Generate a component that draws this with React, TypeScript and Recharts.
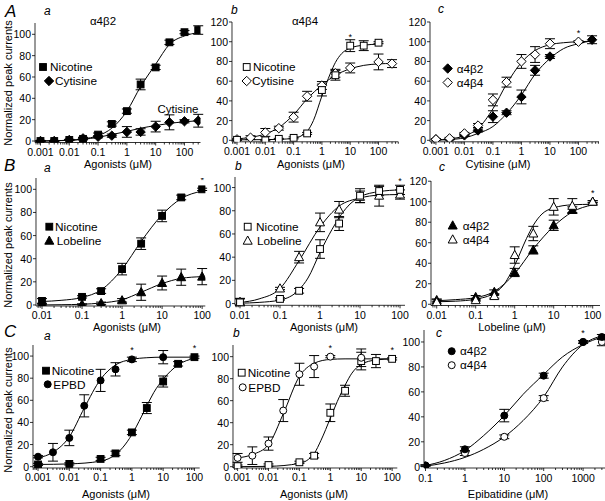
import React from 'react';
import { ComposedChart, Line, Scatter, XAxis, YAxis, ErrorBar } from 'recharts';

type Pt = { x: number; y: number; e: number; star: boolean };
type FitPt = { x: number; y: number };
type Kind = 'square' | 'diamond' | 'triangle' | 'circle';

const pts = (d: number[], v: number[], e: number[], stars: number[] = []): Pt[] =>
  d.map((x, i) => ({ x, y: v[i], e: e[i], star: stars.includes(x) }));
const fit = (d: number[], v: number[]): FitPt[] => d.map((x, i) => ({ x, y: v[i] }));

// ---------- Row A ----------
const doseA = [0.001, 0.003, 0.01, 0.03, 0.1, 0.3, 1, 3, 10, 30, 100, 300];
const aaNicotine = [0, 0, 1, 2, 6, 16, 28, 53, 69, 92.5, 102, 104];
const aaNicotineErr = [0.5, 0.5, 0.5, 1, 1.5, 2, 2, 5, 2, 2, 1.5, 4];
const aaCytisine = [0, 0, 1, 2.5, 4, 5, 8.5, 8.5, 13.5, 17.5, 18.5, 19];
const aaCytisineErr = [0.5, 0.5, 0.5, 1, 1, 1.5, 5, 3, 5, 7, 1.5, 6];
const aaNicotineFit = [0, 0.3, 0.8, 2, 5, 12, 28, 51, 72, 90.5, 98.5, 101.5];
const aaCytisineFit = [0, 0.2, 0.6, 1.5, 3.5, 6, 9, 12, 14.5, 16.5, 18, 19];

const abNicDose = [0.001, 0.01, 0.03, 0.1, 0.3, 1, 3, 10, 30, 100];
const abNicotine = [0.5, 0, 1.5, 2.5, 7, 51, 66, 96, 96, 99];
const abNicotineErr = [0.5, 0.5, 0.5, 1, 1, 6, 5, 6, 5, 1];
const abCytDose = [0.001, 0.003, 0.01, 0.03, 0.1, 0.3, 1, 3, 10, 100, 300];
const abCytisine = [1, 2.7, 8, 12.3, 23.5, 44.7, 55.6, 68, 73.4, 79.5, 77.8];
const abCytisineErr = [0.5, 2, 4, 2, 5, 5, 4, 4, 5, 8, 4];
const abNicFitDose = [0.001, 0.01, 0.03, 0.1, 0.2, 0.3, 0.5, 1, 2, 3, 5, 10, 30, 100];
const abNicotineFit = [0.5, 0.7, 1, 2, 5, 9, 20, 45, 68, 79, 88, 93.5, 96.5, 97.5];
const abCytisineFit = [1.5, 3, 6.5, 13, 26, 42, 56, 66, 72.5, 76, 77.5, 78];

const acB2Dose = [0.001, 0.003, 0.01, 0.03, 0.1, 0.3, 1, 3, 10, 300];
const acB2 = [1, 1, 5, 10, 24, 28, 44, 71, 85, 102];
const acB2Err = [0.5, 0.5, 1, 1.5, 6, 2, 7, 5, 2, 4];
const acB4Dose = [0.001, 0.003, 0.01, 0.03, 0.1, 0.3, 1, 3, 10, 100];
const acB4 = [1, 2, 7, 15, 41, 59, 80, 87, 98, 100];
const acB4Err = [0.5, 1, 1, 2, 6, 5, 7, 8, 5, 1];
const acB2Fit = [0.2, 0.8, 2.5, 7, 14, 27, 46, 67, 83, 93, 98, 101];
const acB4Fit = [0.5, 1.5, 4.5, 12, 32, 57, 79, 91, 97, 99, 100, 100.5];

// ---------- Row B ----------
const doseB = [0.01, 0.1, 0.3, 1, 3, 10, 30, 100];
const fitDoseB = [0.01, 0.03, 0.1, 0.3, 1, 3, 10, 30, 100];
const steepDoseB = [0.01, 0.03, 0.1, 0.3, 0.5, 1, 2, 3, 5, 10, 30, 100];
const baNicotine = [3.5, 7, 12, 31, 53, 77, 93, 100];
const baNicotineErr = [2, 1, 2, 5, 5, 5, 2, 1];
const baLobeline = [0.5, 0.5, 1.5, 4, 11, 19, 24, 24.5];
const baLobelineErr = [0.5, 0.5, 1, 1.5, 7, 6, 7, 7];
const baNicotineFit = [3, 4, 6.5, 13, 31, 55, 78, 92, 98.5];
const baLobelineFit = [0, 0.2, 0.6, 1.7, 4.5, 11, 18.5, 23, 24.5];

const bbNicotine = [1, 4, 11, 47, 69, 93, 97, 98];
const bbNicotineErr = [3, 1, 2, 8, 6, 6, 4, 4];
const bbLobeline = [1.5, 13, 40, 70, 81, 92, 93, 94];
const bbLobelineErr = [3, 1, 5, 8, 7, 5, 9, 4];
const bbNicotineFit = [0.3, 1, 3, 12, 22, 44, 64, 74, 84, 92, 96.5, 98];
const bbLobelineFit = [1, 4, 13, 37, 66, 84, 91, 93.5, 94];

const bcB2 = [4, 7, 12, 31, 53, 77, 92, 100];
const bcB2Err = [1, 1.5, 2, 4, 4, 5, 3, 1];
const bcB4 = [2, 4, 8, 48, 69, 95, 96, 100];
const bcB4Err = [3, 1, 2, 8, 7, 8, 7, 1];
const bcB2Fit = [3.5, 4.5, 6.5, 12.5, 30, 54, 76, 90, 97];
const bcB4Fit = [2.5, 3, 5, 11, 18, 38, 64, 77, 88, 94, 97, 97.5];

// ---------- Row C ----------
const nicDoseC = [0.001, 0.01, 0.1, 0.3, 1, 3, 10, 30, 100];
const epbdDoseC = [0.001, 0.003, 0.01, 0.03, 0.1, 0.3, 1, 10];
const epbdFitDoseC = [0.001, 0.003, 0.01, 0.03, 0.1, 0.3, 1, 3, 10, 100];
const nicFitDoseC = [0.001, 0.01, 0.1, 0.3, 0.5, 1, 2, 3, 5, 10, 30, 100];
const caNicotine = [2, 2.5, 7, 12, 31, 53, 77, 93, 99];
const caNicotineErr = [1, 1, 1.5, 2, 2, 5, 5, 2, 1];
const caEPBD = [9, 13, 26, 55, 78, 88, 97, 99];
const caEPBDErr = [1, 8, 7, 10, 10, 6, 2, 6];
const caEPBDFit = [8, 13, 27, 53, 79, 92, 97, 98.5, 99, 99];
const caNicotineFit = [2, 2.5, 5, 11, 17, 29, 45, 55, 67, 79, 92, 98];

const cbNicotine = [0.5, 1.5, 4, 10, 49, 69, 96, 96, 98];
const cbNicotineErr = [1, 1, 1, 2, 8, 5, 8, 6, 1];
const cbEPBD = [8, 10, 21, 51, 84, 91, 100, 99];
const cbEPBDErr = [4, 8, 6, 10, 10, 10, 1, 8];
const cbEPBDFit = [8, 11, 20, 48, 82, 94, 97.5, 98, 98, 98];
const cbNicotineFit = [0, 0.3, 3, 12, 24, 44, 64, 74, 85, 93, 97, 98];

const doseCc = [0.1, 1, 10, 100, 1000, 3000];
const fitDoseCc = [0.1, 0.3, 1, 3, 10, 30, 100, 300, 1000, 3000];
const ccB2 = [1, 14, 41, 73, 100, 104];
const ccB2Err = [0.5, 2, 5, 2, 1, 2];
const ccB4 = [1, 11, 24, 55, 100, 100];
const ccB4Err = [0.5, 2, 1.5, 2, 1, 3];
const ccB2Fit = [1, 5, 13, 25, 41, 58, 74, 88, 98, 104];
const ccB4Fit = [0.5, 3, 7.5, 14, 24, 37, 56, 80, 98, 105];

// ---------- Ticks ----------
const yTicks100 = [0, 20, 40, 60, 80, 100];
const yTicks120 = [0, 20, 40, 60, 80, 100, 120];
const xMajorsA = [0.001, 0.01, 0.1, 1, 10, 100];
const xMajorsB = [0.01, 0.1, 1, 10, 100];
const xMajorsCc = [0.1, 1, 10, 100, 1000];

type Series = { data: Pt[]; fit: FitPt[]; kind: Kind; filled: boolean };
type Panel = {
  left: number; top: number; right: number; bottom: number;
  xDomain: [number, number]; yDomain: [number, number];
  yTicks: number[]; xMajors: number[]; series: Series[];
};

const panels: Panel[] = [
  {
    left: 34.5, top: 23, right: 200, bottom: 142.5, xDomain: [0.000645, 360], yDomain: [-1.4, 110.6],
    yTicks: yTicks100, xMajors: xMajorsA,
    series: [
      { data: pts(doseA, aaCytisine, aaCytisineErr), fit: fit(doseA, aaCytisineFit), kind: 'diamond', filled: true },
      { data: pts(doseA, aaNicotine, aaNicotineErr, [100]), fit: fit(doseA, aaNicotineFit), kind: 'square', filled: true },
    ],
  },
  {
    left: 231.7, top: 21.7, right: 398, bottom: 141.5, xDomain: [0.000665, 500], yDomain: [-1.5, 120],
    yTicks: yTicks120, xMajors: xMajorsA,
    series: [
      { data: pts(abCytDose, abCytisine, abCytisineErr), fit: fit(doseA, abCytisineFit), kind: 'diamond', filled: false },
      { data: pts(abNicDose, abNicotine, abNicotineErr, [10]), fit: fit(abNicFitDose, abNicotineFit), kind: 'square', filled: false },
    ],
  },
  {
    left: 430, top: 21.7, right: 599, bottom: 141.5, xDomain: [0.00062, 525], yDomain: [-1.5, 120],
    yTicks: yTicks120, xMajors: xMajorsA,
    series: [
      { data: pts(acB2Dose, acB2, acB2Err), fit: fit(doseA, acB2Fit), kind: 'diamond', filled: true },
      { data: pts(acB4Dose, acB4, acB4Err, [100]), fit: fit(doseA, acB4Fit), kind: 'diamond', filled: false },
    ],
  },
  {
    left: 35.7, top: 178, right: 205, bottom: 306, xDomain: [0.00708, 120], yDomain: [-0.9, 109.8],
    yTicks: yTicks100, xMajors: xMajorsB,
    series: [
      { data: pts(doseB, baLobeline, baLobelineErr), fit: fit(fitDoseB, baLobelineFit), kind: 'triangle', filled: true },
      { data: pts(doseB, baNicotine, baNicotineErr, [100]), fit: fit(fitDoseB, baNicotineFit), kind: 'square', filled: true },
    ],
  },
  {
    left: 235, top: 176.7, right: 405, bottom: 305, xDomain: [0.0075, 133], yDomain: [-1.5, 109.1],
    yTicks: yTicks100, xMajors: xMajorsB,
    series: [
      { data: pts(doseB, bbLobeline, bbLobelineErr), fit: fit(fitDoseB, bbLobelineFit), kind: 'triangle', filled: false },
      { data: pts(doseB, bbNicotine, bbNicotineErr, [100]), fit: fit(steepDoseB, bbNicotineFit), kind: 'square', filled: false },
    ],
  },
  {
    left: 431, top: 181, right: 600, bottom: 305.5, xDomain: [0.00714, 154], yDomain: [-1.2, 120.2],
    yTicks: yTicks120, xMajors: xMajorsB,
    series: [
      { data: pts(doseB, bcB2, bcB2Err), fit: fit(fitDoseB, bcB2Fit), kind: 'triangle', filled: true },
      { data: pts(doseB, bcB4, bcB4Err, [100]), fit: fit(steepDoseB, bcB4Fit), kind: 'triangle', filled: false },
    ],
  },
  {
    left: 33.3, top: 345, right: 200, bottom: 468, xDomain: [0.00069, 147], yDomain: [-1.2, 110],
    yTicks: yTicks100, xMajors: xMajorsA,
    series: [
      { data: pts(nicDoseC, caNicotine, caNicotineErr, [100]), fit: fit(nicFitDoseC, caNicotineFit), kind: 'square', filled: true },
      { data: pts(epbdDoseC, caEPBD, caEPBDErr, [1]), fit: fit(epbdFitDoseC, caEPBDFit), kind: 'circle', filled: true },
    ],
  },
  {
    left: 232.7, top: 345, right: 397, bottom: 468, xDomain: [0.00071, 147], yDomain: [-1.2, 110.6],
    yTicks: yTicks100, xMajors: xMajorsA,
    series: [
      { data: pts(nicDoseC, cbNicotine, cbNicotineErr, [100]), fit: fit(nicFitDoseC, cbNicotineFit), kind: 'square', filled: false },
      { data: pts(epbdDoseC, cbEPBD, cbEPBDErr, [1]), fit: fit(epbdFitDoseC, cbEPBDFit), kind: 'circle', filled: false },
    ],
  },
  {
    left: 424, top: 330, right: 605, bottom: 468, xDomain: [0.0916, 3600], yDomain: [-1, 109.6],
    yTicks: yTicks100, xMajors: xMajorsCc,
    series: [
      { data: pts(doseCc, ccB4, ccB4Err), fit: fit(fitDoseCc, ccB4Fit), kind: 'circle', filled: false },
      { data: pts(doseCc, ccB2, ccB2Err, [1000]), fit: fit(fitDoseCc, ccB2Fit), kind: 'circle', filled: true },
    ],
  },
];

function Marker({ cx, cy, kind, filled }: { cx: number; cy: number; kind: Kind; filled: boolean }) {
  const fill = filled ? '#000' : '#fff';
  const common = { fill, stroke: '#000', strokeWidth: 1 };
  if (kind === 'square') return <rect x={cx - 3.4} y={cy - 3.4} width={6.8} height={6.8} {...common} />;
  if (kind === 'diamond')
    return <polygon points={`${cx},${cy - 4.7} ${cx + 4.7},${cy} ${cx},${cy + 4.7} ${cx - 4.7},${cy}`} {...common} />;
  if (kind === 'triangle')
    return <polygon points={`${cx},${cy - 4.7} ${cx + 4.5},${cy + 3.5} ${cx - 4.5},${cy + 3.5}`} {...common} />;
  return <circle cx={cx} cy={cy} r={3.5} {...common} />;
}

function minorTicks(majors: number[], domain: [number, number]): number[] {
  const out: number[] = [];
  const bases = [majors[0] / 10, ...majors];
  bases.forEach((b) => {
    for (let k = 1; k <= 9; k++) {
      const v = k === 1 ? b : b * k;
      if (v >= domain[0] && v <= domain[1]) out.push(v);
    }
  });
  return out;
}

const XTick = (props: any) => {
  const { x, y, payload, majors } = props;
  const isMajor = majors.includes(payload.value);
  return (
    <g>
      <line x1={x} x2={x} y1={y} y2={y + (isMajor ? 3 : 2)} stroke="#000" strokeWidth={0.8} />
      {isMajor && (
        <text x={x} y={y + 13.5} textAnchor="middle" fontSize={10.5} fill="#000">
          {String(payload.value)}
        </text>
      )}
    </g>
  );
};

const YTick = (props: any) => {
  const { x, y, payload } = props;
  return (
    <g>
      <line x1={x} x2={x - 3} y1={y} y2={y} stroke="#000" strokeWidth={0.8} />
      <text x={x - 4} y={y + 4} textAnchor="end" fontSize={10.5} fill="#000">
        {String(payload.value)}
      </text>
    </g>
  );
};

function PanelChart({ p }: { p: Panel }) {
  const ml = 40, mt = 14, mr = 16, mb = 22;
  const pw = p.right - p.left;
  const ph = p.bottom - p.top;
  const ticks = minorTicks(p.xMajors, p.xDomain);
  return (
    <div style={{ position: 'absolute', left: p.left - ml, top: p.top - mt }}>
      <ComposedChart width={pw + ml + mr} height={ph + mt + mb} margin={{ top: mt, right: mr, left: 0, bottom: 0 }}>
        <XAxis
          type="number" dataKey="x" scale="log" domain={p.xDomain} allowDataOverflow
          ticks={ticks} interval={0} tickSize={0} tickMargin={0} height={mb}
          tickLine={false} axisLine={{ stroke: '#000', strokeWidth: 0.8 }}
          tick={<XTick majors={p.xMajors} />}
        />
        <YAxis
          type="number" dataKey="y" domain={p.yDomain} allowDataOverflow ticks={p.yTicks}
          interval={0} tickSize={0} tickMargin={0} width={ml} tickLine={false}
          axisLine={{ stroke: '#000', strokeWidth: 0.8 }} tick={<YTick />}
        />
        {p.series.map((s, i) => (
          <Line key={'f' + i} data={s.fit} dataKey="y" type="monotone" stroke="#000" strokeWidth={1}
            dot={false} activeDot={false} isAnimationActive={false} />
        ))}
        {p.series.map((s, i) => (
          <Scatter key={'s' + i} data={s.data} isAnimationActive={false}
            shape={(sp: any) => (
              <g>
                <Marker cx={sp.cx} cy={sp.cy} kind={s.kind} filled={s.filled} />
                {sp.payload && sp.payload.star && (
                  <text x={sp.cx} y={sp.cy - 6} textAnchor="middle" fontSize={9} fill="#000">*</text>
                )}
              </g>
            )}>
            <ErrorBar dataKey="e" direction="y" width={5} stroke="#000" strokeWidth={1} />
          </Scatter>
        ))}
      </ComposedChart>
    </div>
  );
}

type Leg = { cx: number; cy: number; kind: Kind; filled: boolean; tx: number; label: string };
const legends: Leg[] = [
  { cx: 43, cy: 67, kind: 'square', filled: true, tx: 50, label: 'Nicotine' },
  { cx: 49, cy: 81, kind: 'diamond', filled: true, tx: 55, label: 'Cytisine' },
  { cx: 246.7, cy: 67, kind: 'square', filled: false, tx: 253, label: 'Nicotine' },
  { cx: 246.7, cy: 81, kind: 'diamond', filled: false, tx: 252, label: 'Cytisine' },
  { cx: 447.7, cy: 68.5, kind: 'diamond', filled: true, tx: 456.7, label: 'α4β2' },
  { cx: 447.7, cy: 82.5, kind: 'diamond', filled: false, tx: 456.7, label: 'α4β4' },
  { cx: 49.3, cy: 226.7, kind: 'square', filled: true, tx: 55, label: 'Nicotine' },
  { cx: 49.3, cy: 240.7, kind: 'triangle', filled: true, tx: 56.7, label: 'Lobeline' },
  { cx: 247.7, cy: 226.7, kind: 'square', filled: false, tx: 256, label: 'Nicotine' },
  { cx: 247.7, cy: 240.7, kind: 'triangle', filled: false, tx: 257, label: 'Lobeline' },
  { cx: 452.7, cy: 225.5, kind: 'triangle', filled: true, tx: 462.7, label: 'α4β2' },
  { cx: 452.7, cy: 239.5, kind: 'triangle', filled: false, tx: 462.7, label: 'α4β4' },
  { cx: 46, cy: 370.7, kind: 'square', filled: true, tx: 51.7, label: 'Nicotine' },
  { cx: 47.7, cy: 384.3, kind: 'circle', filled: true, tx: 53.3, label: 'EPBD' },
  { cx: 241.7, cy: 372.7, kind: 'square', filled: false, tx: 247.7, label: 'Nicotine' },
  { cx: 242.7, cy: 387.3, kind: 'circle', filled: false, tx: 248.3, label: 'EPBD' },
  { cx: 451.7, cy: 351.2, kind: 'circle', filled: true, tx: 460, label: 'α4β2' },
  { cx: 451.7, cy: 365.2, kind: 'circle', filled: false, tx: 460, label: 'α4β4' },
];

type Txt = { x: number; y: number; t: string; size: number; italic?: boolean; anchor?: string; rot?: boolean };
const texts: Txt[] = [
  { x: 5, y: 17, t: 'A', size: 17, italic: true },
  { x: 4, y: 171, t: 'B', size: 17, italic: true },
  { x: 4, y: 337, t: 'C', size: 17, italic: true },
  { x: 44, y: 15, t: 'a', size: 12, italic: true },
  { x: 231, y: 14, t: 'b', size: 12, italic: true },
  { x: 438, y: 13, t: 'c', size: 12, italic: true },
  { x: 44, y: 172, t: 'a', size: 12, italic: true },
  { x: 235, y: 170, t: 'b', size: 12, italic: true },
  { x: 439, y: 171, t: 'c', size: 12, italic: true },
  { x: 44, y: 340, t: 'a', size: 12, italic: true },
  { x: 233, y: 337, t: 'b', size: 12, italic: true },
  { x: 436, y: 337, t: 'c', size: 12, italic: true },
  { x: 103, y: 25, t: 'α4β2', size: 11.5, anchor: 'middle' },
  { x: 305, y: 25, t: 'α4β4', size: 11.5, anchor: 'middle' },
  { x: 178, y: 113, t: 'Cytisine', size: 11.5, anchor: 'middle' },
  { x: 118, y: 168, t: 'Agonists (μM)', size: 11, anchor: 'middle' },
  { x: 311, y: 168, t: 'Agonists (μM)', size: 11, anchor: 'middle' },
  { x: 498, y: 168, t: 'Cytisine (μM)', size: 11, anchor: 'middle' },
  { x: 127, y: 331, t: 'Agonists (μM)', size: 11, anchor: 'middle' },
  { x: 324, y: 331, t: 'Agonists (μM)', size: 11, anchor: 'middle' },
  { x: 512, y: 331, t: 'Lobeline (μM)', size: 11, anchor: 'middle' },
  { x: 116, y: 498, t: 'Agonists (μM)', size: 11, anchor: 'middle' },
  { x: 314, y: 498, t: 'Agonists (μM)', size: 11, anchor: 'middle' },
  { x: 508, y: 498, t: 'Epibatidine (μM)', size: 11, anchor: 'middle' },
  { x: 8, y: 83, t: 'Normalized peak currents', size: 11, anchor: 'middle', rot: true },
  { x: 8, y: 245, t: 'Normalized peak currents', size: 11, anchor: 'middle', rot: true },
  { x: 8, y: 410, t: 'Normalized peak currents', size: 11, anchor: 'middle', rot: true },
];

export default function App() {
  return (
    <div style={{ position: 'absolute', left: 0, top: 0, width: 605, height: 501, background: '#fff', overflow: 'hidden', fontFamily: '"Liberation Sans", Arial, sans-serif' }}>
      {panels.map((p, i) => <PanelChart key={i} p={p} />)}
      <svg width={605} height={501} style={{ position: 'absolute', left: 0, top: 0, pointerEvents: 'none' }}>
        {legends.map((l, i) => (
          <g key={i}>
            <Marker cx={l.cx} cy={l.cy} kind={l.kind} filled={l.filled} />
            <text x={l.tx} y={l.cy + 4.2} fontSize={11.8} fill="#000">{l.label}</text>
          </g>
        ))}
        {texts.map((t, i) => (
          <text key={i} x={t.x} y={t.y} fontSize={t.size} fontStyle={t.italic ? 'italic' : 'normal'}
            textAnchor={(t.anchor as any) || 'start'} fill="#000"
            dominantBaseline={t.rot ? 'central' : undefined}
            transform={t.rot ? `rotate(-90 ${t.x} ${t.y})` : undefined}>
            {t.t}
          </text>
        ))}
      </svg>
    </div>
  );
}
